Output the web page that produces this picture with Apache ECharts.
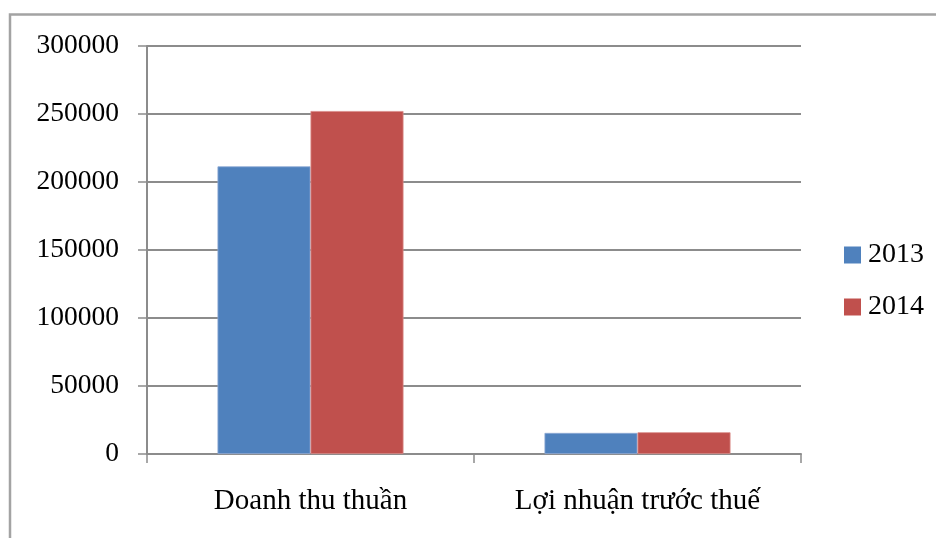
<!DOCTYPE html>
<html>
<head>
<meta charset="utf-8">
<style>
  html, body { margin: 0; padding: 0; background: #ffffff; }
  #chart { width: 936px; height: 538px; }
</style>
<script src="https://cdn.jsdelivr.net/npm/echarts@6/dist/echarts.min.js"></script>
</head>
<body>
<div id="chart"></div>
<script>
// Categories and yearly values
const categories = ['Doanh thu thuần', 'Lợi nhuận trước thuế'];
const years = ['2013', '2014'];
const values2013 = [211500, 15500];
const values2014 = [252200, 16000];
const yTicks = [0, 50000, 100000, 150000, 200000, 250000, 300000];

const FONT = '"Liberation Serif", "DejaVu Serif", serif';
const GRID_COLOR = '#8c8c8c';
const colors = ['#4F81BD', '#C0504D'];

const chart = echarts.init(document.getElementById('chart'), null, { renderer: 'canvas' });

chart.setOption({
  animation: false,
  backgroundColor: '#ffffff',
  textStyle: { fontFamily: FONT },
  grid: { left: 147, right: 135, top: 46, bottom: 84, containLabel: false },
  // Outer frame: top and left edges only
  graphic: [
    {
      type: 'polyline',
      silent: true,
      shape: { points: [[10, 538], [10, 14.5], [936, 14.5]] },
      style: { stroke: '#a3a3a3', lineWidth: 2.5, fill: null }
    }
  ],
  legend: {
    orient: 'vertical',
    left: 844,
    top: 241,
    padding: 0,
    itemWidth: 17,
    itemHeight: 17,
    itemGap: 24,
    icon: 'rect',
    itemStyle: { borderWidth: 0 },
    textStyle: { fontFamily: FONT, fontSize: 28, color: '#000', padding: [0, 0, 0, 2] },
    data: years
  },
  xAxis: {
    type: 'category',
    data: categories,
    axisLine: { show: true, lineStyle: { color: GRID_COLOR, width: 2 } },
    axisTick: { show: true, length: 9, inside: false, alignWithLabel: false, lineStyle: { color: GRID_COLOR, width: 1.5 } },
    axisLabel: { fontFamily: FONT, fontSize: 29, color: '#000', margin: 33 },
    splitLine: { show: false }
  },
  yAxis: {
    type: 'value',
    min: yTicks[0],
    max: yTicks[yTicks.length - 1],
    interval: yTicks[1] - yTicks[0],
    axisLine: { show: true, lineStyle: { color: GRID_COLOR, width: 2 } },
    axisTick: { show: true, length: 9, lineStyle: { color: GRID_COLOR, width: 1.5 } },
    axisLabel: {
      fontFamily: FONT, fontSize: 27.5, color: '#000', margin: 28,
      formatter: v => yTicks.includes(v) ? String(v) : ''
    },
    splitLine: { show: true, lineStyle: { color: GRID_COLOR, width: 2 } }
  },
  series: [
    {
      name: years[0],
      type: 'bar',
      data: values2013,
      barWidth: 93,
      barGap: '0%',
      itemStyle: { color: colors[0], borderColor: '#8eaad6', borderWidth: 0.8 }
    },
    {
      name: years[1],
      type: 'bar',
      data: values2014,
      barWidth: 93,
      barGap: '0%',
      itemStyle: { color: colors[1], borderColor: '#d98a88', borderWidth: 0.8 }
    }
  ]
});
</script>
</body>
</html>
